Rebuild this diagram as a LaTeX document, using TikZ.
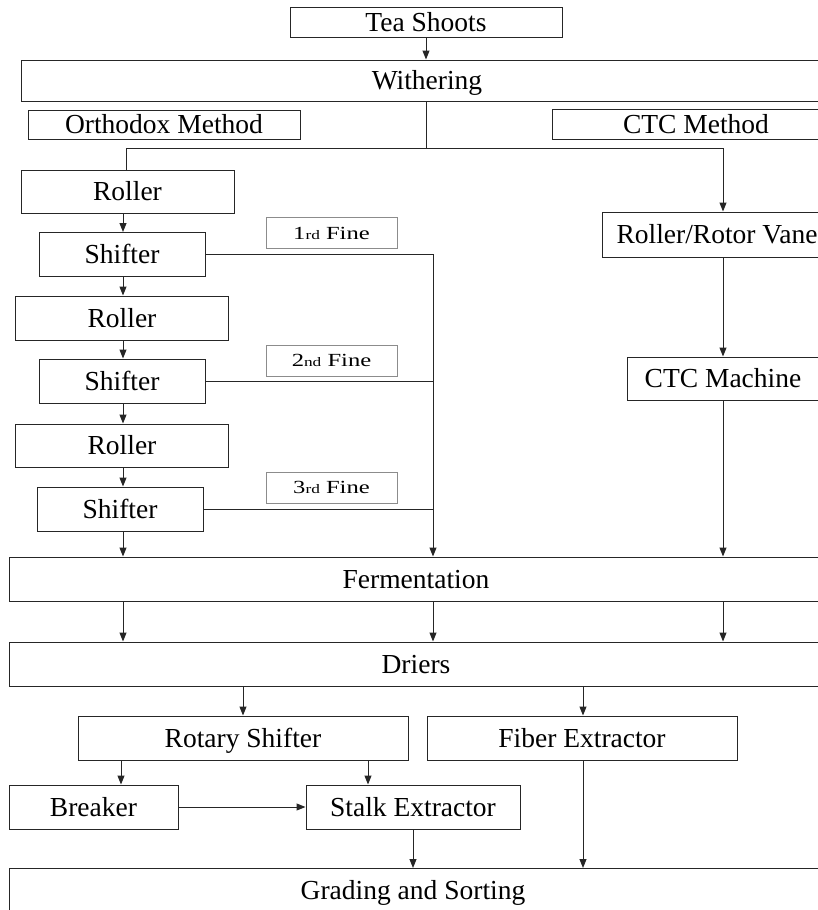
\documentclass[tikz,border=0pt]{standalone}
\usepackage{fontspec}
\setmainfont{Liberation Serif}
\newfontfamily\widefont[FakeStretch=1.33]{Liberation Serif}
\usetikzlibrary{arrows.meta}

\tikzset{
  stage/.style 2 args={draw=black!85, line width=1pt, inner sep=0pt,
    minimum width=#1pt, minimum height=#2pt,
    text height=18pt, text depth=0pt,
    font=\fontsize{27.5}{30}\selectfont},
  finebox/.style={draw=black!45, line width=0.8pt, inner sep=0pt,
    minimum width=131pt, minimum height=31pt,
    text height=12.5pt, text depth=0pt,
    font=\widefont\fontsize{18.5}{22}\selectfont},
  txt/.style={inner sep=0pt, text height=18pt, text depth=0pt,
    font=\fontsize{27.5}{30}\selectfont},
  link/.style={draw=black!85, line width=1pt},
  arr/.style={link, -{Triangle[length=9pt, width=7pt]}}
}
\newcommand{\ordsuf}[1]{{\fontsize{13}{15}\selectfont #1}}

\begin{document}
\begin{tikzpicture}[x=1pt, y=-1pt]
  \useasboundingbox (0,0) rectangle (818,910);
  \clip (0,0) rectangle (818,910);
  \fill[white] (0,0) rectangle (818,910);

  % top of the line
  \node[stage={272}{30}] (tea) at (426,22) {Tea Shoots};
  \node[stage={812}{41}] (with) at (427,80.5) {Withering};
  \node[stage={272}{29}] (orth) at (164,124.5) {Orthodox Method};
  \node[stage={290}{30}, anchor=west] (ctcm) at (552,124.5) {};
  \node[txt] (ctcmt) at (696,124.5) {CTC Method};

  % orthodox rolling and sifting
  \node[stage={213}{43}] (rol1) at (127.5,191.5) {Roller};
  \node[stage={166}{44}] (sh1) at (122,254.5) {Shifter};
  \node[stage={213}{44}] (rol2) at (122,318) {Roller};
  \node[stage={166}{44}] (sh2) at (122,381) {Shifter};
  \node[stage={213}{43}] (rol3) at (122,445.5) {Roller};
  \node[stage={166}{44}] (sh3) at (120,509) {Shifter};

  \node[finebox] (f1) at (331.5,233) {1\ordsuf{rd} Fine};
  \node[finebox] (f2) at (331.5,360.5) {2\ordsuf{nd} Fine};
  \node[finebox] (f3) at (331.5,487.5) {3\ordsuf{rd} Fine};

  % CTC line
  \node[stage={230}{45}] (rrv) at (717,234.5) {Roller/Rotor Vane};
  \node[stage={192}{43}] (ctcmach) at (723,378.5) {CTC Machine};

  % common stages
  \node[stage={814}{44}] (ferm) at (416,579) {Fermentation};
  \node[stage={814}{44}] (drier) at (416,664) {Driers};
  \node[stage={330}{44}] (rot) at (243,738) {Rotary Shifter};
  \node[stage={310}{44}] (fib) at (582,738) {Fiber Extractor};
  \node[stage={169}{44}] (brk) at (93.5,807) {Breaker};
  \node[stage={214}{44}] (stalk) at (413,807) {Stalk Extractor};
  \node[stage={814}{64}, anchor=north] (grade) at (416,868) {};
  \node[txt] (gradet) at (413,890) {Grading and Sorting};

  % junctions
  \coordinate (split) at (426,148);
  \coordinate (bus) at (433,0);
  \coordinate (lft) at (123,0);
  \coordinate (rgt) at (723,0);

  % connectors
  \draw[arr] (tea.south) -- (tea.south |- with.north);
  \draw[link] (with.south -| split) -- (split);
  \draw[link] (split) -| (rol1.north -| 126,0);
  \draw[arr] (split) -| (rgt |- rrv.north);

  \draw[arr] (lft |- rol1.south) -- (lft |- sh1.north);
  \draw[arr] (lft |- sh1.south) -- (lft |- rol2.north);
  \draw[arr] (lft |- rol2.south) -- (lft |- sh2.north);
  \draw[arr] (lft |- sh2.south) -- (lft |- rol3.north);
  \draw[arr] (lft |- rol3.south) -- (lft |- sh3.north);
  \draw[arr] (lft |- sh3.south) -- (lft |- ferm.north);

  \draw[arr] (sh1.east) -| (bus |- ferm.north);
  \draw[link] (sh2.east) -- (bus |- sh2.east);
  \draw[link] (sh3.east) -- (bus |- sh3.east);

  \draw[arr] (rgt |- rrv.south) -- (rgt |- ctcmach.north);
  \draw[arr] (rgt |- ctcmach.south) -- (rgt |- ferm.north);

  \draw[arr] (lft |- ferm.south) -- (lft |- drier.north);
  \draw[arr] (bus |- ferm.south) -- (bus |- drier.north);
  \draw[arr] (rgt |- ferm.south) -- (rgt |- drier.north);

  \draw[arr] (rot.north |- drier.south) -- (rot.north);
  \draw[arr] (583,0 |- drier.south) -- (583,0 |- fib.north);

  \draw[arr] (121,0 |- rot.south) -- (121,0 |- brk.north);
  \draw[arr] (368,0 |- rot.south) -- (368,0 |- stalk.north);
  \draw[arr] (brk.east) -- (stalk.west);

  \draw[arr] (stalk.south) -- (stalk.south |- grade.north);
  \draw[arr] (583,0 |- fib.south) -- (583,0 |- grade.north);
\end{tikzpicture}
\end{document}
